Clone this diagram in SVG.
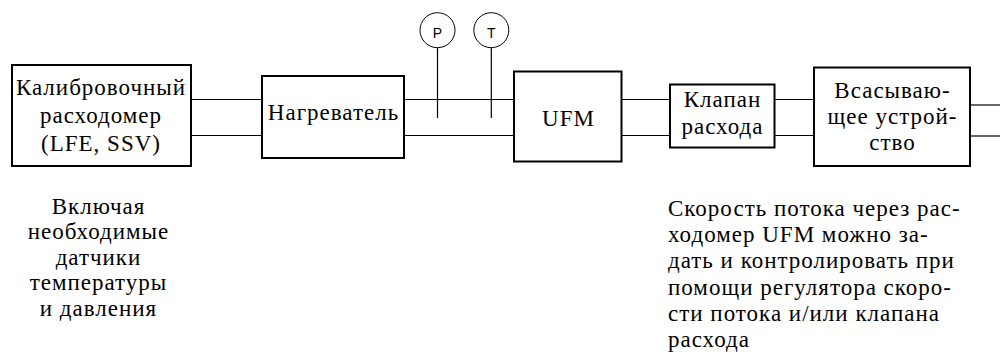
<svg xmlns="http://www.w3.org/2000/svg" width="1000" height="352" viewBox="0 0 1000 352">
<style>
.box{fill:#fff;stroke:#000;stroke-width:2}
.pipe{stroke:#000;stroke-width:1.2;fill:none}
.sens{fill:#fff;stroke:#000;stroke-width:1}
text.t{font-family:'Liberation Serif','DejaVu Serif',serif;font-size:23px;letter-spacing:1px;fill:#000}
text.c{text-anchor:middle}
text.s{font-family:'Liberation Sans',Arial,sans-serif;font-size:14px;fill:#000;text-anchor:middle}
</style>
<rect width="1000" height="352" fill="#fff"/>
<g id="connectors">
<line class="pipe" x1="191" y1="99.5" x2="262" y2="99.5"/>
<line class="pipe" x1="191" y1="135.5" x2="262" y2="135.5"/>
<line class="pipe" x1="404" y1="99.5" x2="514" y2="99.5"/>
<line class="pipe" x1="404" y1="135.5" x2="514" y2="135.5"/>
<line class="pipe" x1="621.5" y1="99.5" x2="670" y2="99.5"/>
<line class="pipe" x1="621.5" y1="135.5" x2="670" y2="135.5"/>
<line class="pipe" x1="774.5" y1="99.5" x2="814" y2="99.5"/>
<line class="pipe" x1="774.5" y1="135.5" x2="814" y2="135.5"/>
<line class="pipe" x1="970" y1="105" x2="1000" y2="105"/>
<line class="pipe" x1="970" y1="136" x2="1000" y2="136"/>
<line class="pipe" x1="437.5" y1="47.5" x2="437.5" y2="118"/>
<line class="pipe" x1="491.3" y1="47.5" x2="491.3" y2="118"/>
</g>
<g id="calibrator">
<rect class="box" x="12" y="65" width="179" height="101"/>
<text class="t c" x="101" y="95">Калибровочный</text>
<text class="t c" x="101" y="123">расходомер</text>
<text class="t c" x="101" y="151">(LFE, SSV)</text>
</g>
<g id="heater">
<rect class="box" x="262" y="76" width="142" height="82"/>
<text class="t c" x="333.5" y="120">Нагреватель</text>
</g>
<g id="sensorP">
<circle class="sens" cx="437.5" cy="30.2" r="17.5"/>
<text class="s" x="437.5" y="37.5">P</text>
</g>
<g id="sensorT">
<circle class="sens" cx="491.3" cy="30.2" r="17.5"/>
<text class="s" x="491.3" y="37.5">T</text>
</g>
<g id="ufm">
<rect class="box" x="514" y="71.5" width="107.5" height="90"/>
<text class="t c" x="568.5" y="126">UFM</text>
</g>
<g id="valve">
<rect class="box" x="670" y="84.5" width="104.5" height="63"/>
<text class="t c" x="722.5" y="107">Клапан</text>
<text class="t c" x="722.5" y="134">расхода</text>
</g>
<g id="suction">
<rect class="box" x="814" y="67.5" width="156" height="98.5"/>
<text class="t c" x="892.5" y="98">Всасываю-</text>
<text class="t c" x="892.5" y="124">щее устрой-</text>
<text class="t c" x="892.5" y="150">ство</text>
</g>
<g id="note-left">
<text class="t c" x="98.5" y="213.5">Включая</text>
<text class="t c" x="98.5" y="239">необходимые</text>
<text class="t c" x="98.5" y="264.5">датчики</text>
<text class="t c" x="98.5" y="290">температуры</text>
<text class="t c" x="98.5" y="315.5">и давления</text>
</g>
<g id="note-right">
<text class="t" x="668" y="216">Скорость потока через рас-</text>
<text class="t" x="668" y="242.2">ходомер UFM можно за-</text>
<text class="t" x="668" y="268.4">дать и контролировать при</text>
<text class="t" x="668" y="294.6">помощи регулятора скоро-</text>
<text class="t" x="668" y="320.8">сти потока и/или клапана</text>
<text class="t" x="668" y="347">расхода</text>
</g>
</svg>
